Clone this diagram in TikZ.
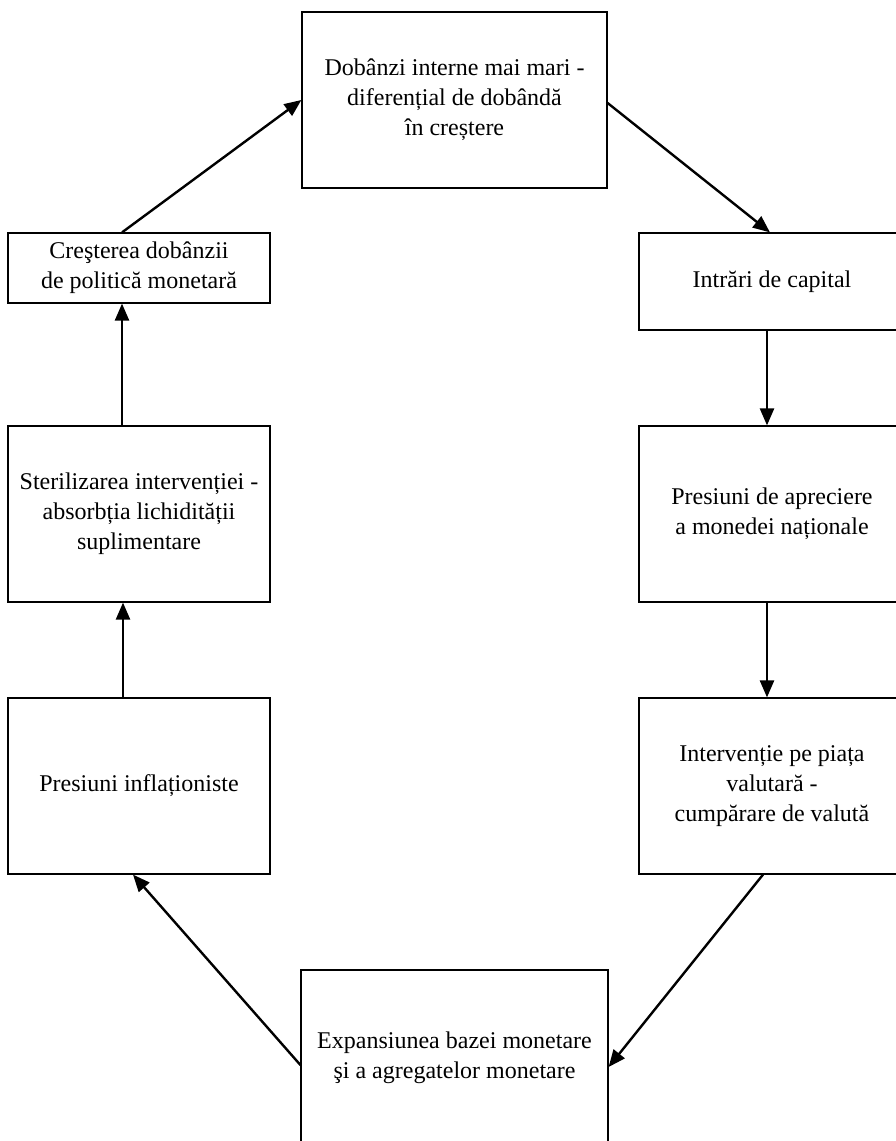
\documentclass[tikz,border=0pt]{standalone}
\usepackage{fontspec}
\setmainfont{Liberation Serif}
\usetikzlibrary{arrows.meta}
\begin{document}
\begin{tikzpicture}[x=1pt,y=-1pt,
  box/.style={draw=black,line width=1.2pt,rectangle,align=center,inner sep=0pt,
    font=\fontsize{24}{30}\selectfont},
  conn/.style={line width=2.4pt,-{Triangle[length=17pt,width=14pt]}}]
\useasboundingbox (0,0) rectangle (896,1141);
\node[box,minimum width=305pt,minimum height=176pt] (top) at (454.5,100)
  {Dobânzi interne mai mari -\\diferențial de dobândă\\în creștere};
\node[box,minimum width=266pt,minimum height=97pt] (intr) at (772,281.5)
  {Intrări de capital};
\node[box,minimum width=266pt,minimum height=176pt] (apr) at (772,514)
  {Presiuni de apreciere\\a monedei naționale};
\node[box,minimum width=266pt,minimum height=176pt] (interv) at (772,786)
  {Intervenție pe piața\\valutară -\\cumpărare de valută};
\node[box,minimum width=307pt,minimum height=176pt] (bot) at (454.5,1058)
  {Expansiunea bazei monetare\\şi a agregatelor monetare};
\node[box,minimum width=262pt,minimum height=176pt] (infl) at (139,786)
  {Presiuni inflaționiste};
\node[box,minimum width=262pt,minimum height=176pt] (ster) at (139,514)
  {Sterilizarea intervenției -\\absorbția lichidității\\suplimentare};
\node[box,minimum width=262pt,minimum height=70pt] (cres) at (139,268)
  {Creşterea dobânzii\\de politică monetară};
\draw[conn] ([yshift=-3pt]top.east) -- ([xshift=-2pt]intr.north);
\draw[conn] ([xshift=-5pt]intr.south) -- ([xshift=-5pt]apr.north);
\draw[conn] ([xshift=-5pt]apr.south) -- ([xshift=-5pt]interv.north);
\draw[conn] ([xshift=-9pt]interv.south) -- ([yshift=-9pt]bot.east);
\draw[conn] ([yshift=-7pt]bot.west) -- ([xshift=-6pt]infl.south);
\draw[conn] ([xshift=-16pt]infl.north) -- ([xshift=-16pt]ster.south);
\draw[conn] ([xshift=-17pt]ster.north) -- ([xshift=-17pt]cres.south);
\draw[conn] ([xshift=-17pt]cres.north) -- (top.west);
\end{tikzpicture}
\end{document}
